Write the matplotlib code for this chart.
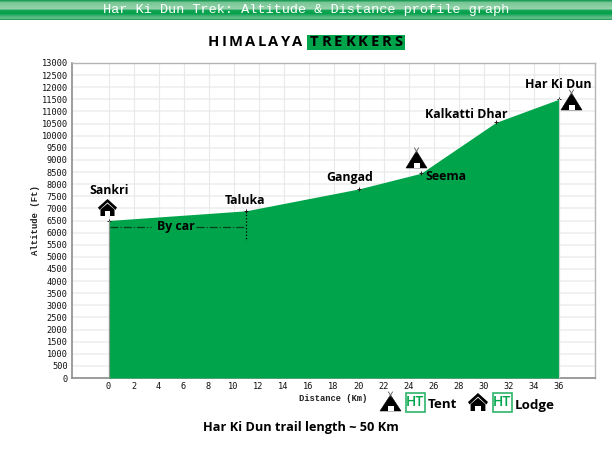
"""Har Ki Dun trek altitude and distance profile"""

import numpy as np
import matplotlib
matplotlib.use('Agg')
import matplotlib.pyplot as plt
from matplotlib.colors import LinearSegmentedColormap
from matplotlib.font_manager import FontProperties
from matplotlib.patches import Polygon, Rectangle
from matplotlib.textpath import TextToPath

distance = [0, 11, 20, 25, 31, 36]
altitude = [6500, 6900, 7800, 8450, 10550, 11500]
place_names = ['Sankri', 'Taluka', 'Gangad', 'Seema', 'Kalkatti Dhar', 'Har Ki Dun']
x_ticks = list(range(0, 38, 2))
y_ticks = list(range(0, 13500, 500))

GREEN = '#00A44A'
BOLD = dict(family='Open Sans', weight='bold', color='black')


def draw_tent(ov, x0, x1, y0, y1):
    """Tent with crossed poles, y0 is the tip of the poles"""
    cx = (x0 + x1) / 2
    tip = y0 + 3
    ov.add_patch(Polygon([(cx, tip), (x1, y1), (x0, y1)], fc='black', ec='black', lw=0.4))
    ov.add_patch(Rectangle((cx - 3, y1 - 5.5), 6, 5.5, fc='white', ec='none'))
    ov.plot([cx - 2, cx + 1], [y0, tip + 2], color='#555555', lw=0.6)
    ov.plot([cx + 2, cx - 1], [y0, tip + 2], color='#555555', lw=0.6)


def draw_lodge(ov, x0, x1, y0, y1):
    """House with a chevron roof"""
    w = x1 - x0
    h = y1 - y0
    cx = (x0 + x1) / 2
    roof = [(cx, y0), (x1, y0 + 0.5 * h), (x1 - 0.08 * w, y0 + 0.64 * h), (cx, y0 + 0.2 * h),
            (x0 + 0.08 * w, y0 + 0.64 * h), (x0, y0 + 0.5 * h)]
    ov.add_patch(Polygon(roof, fc='black', ec='none'))
    body = [(cx, y0 + 0.27 * h), (x1 - 0.13 * w, y0 + 0.62 * h), (x1 - 0.13 * w, y1),
            (x0 + 0.13 * w, y1), (x0 + 0.13 * w, y0 + 0.62 * h)]
    ov.add_patch(Polygon(body, fc='black', ec='none'))
    ov.add_patch(Rectangle((cx - 0.13 * w, y1 - 0.3 * h), 0.26 * w, 0.3 * h, fc='white', ec='none'))


def draw_ht_box(ov, x0, y0, size):
    ov.add_patch(Rectangle((x0, y0), size, size, fc='white', ec='#2db56a', lw=1.2))
    ov.text(x0 + size / 2, y0 + size / 2, 'HT', color=GREEN, fontsize=10, ha='center', va='center',
            family='Open Sans', weight='semibold')


def spaced_text(ov, x, y, text, size_pt, gap, **kw):
    """Letter spaced text, one letter at a time"""
    prop = FontProperties(family='Open Sans', weight='bold', size=size_pt)
    ttp = TextToPath()
    for ch in text:
        w = ttp.get_text_width_height_descent(ch, prop, False)[0] * 100 / 72
        ov.text(x, y, ch, fontproperties=prop, ha='left', va='center', **kw)
        x += w + gap


fig = plt.figure(figsize=(6.12, 4.5), dpi=100)
W, H = 612, 450

# plot area in pixels: left 72, right 595, top 63, bottom 378
ax = fig.add_axes([72 / W, 1 - 378 / H, (595 - 72) / W, (378 - 63) / H])
ax.fill_between(distance, altitude, 0, color=GREEN, lw=0, zorder=3)
ax.plot(distance, altitude, linestyle='none', marker='+', color='#222222', ms=3.5, mew=0.7, zorder=4)
ax.set_xlim(-2.92, 38.92)
ax.set_ylim(0, 13000)
ax.set_xticks(x_ticks)
ax.set_yticks(y_ticks)
ax.tick_params(length=0, pad=3)
for lab in ax.get_xticklabels() + ax.get_yticklabels():
    lab.set_family('DejaVu Sans Mono')
    lab.set_fontsize(6.2)
    lab.set_color('#111111')

for y in y_ticks:
    ax.plot([-2.92, 38.92], [y, y], color='#eeeeee', lw=1.1, zorder=1)
for x in x_ticks:
    ax.plot([x, x], [0, 13000], color='#e9e9e9', lw=0.8, zorder=1)

# grey edges of the filled area
ax.plot([distance[0], distance[0]], [0, altitude[0]], color='#7f9a89', lw=0.9, zorder=4)
ax.plot([distance[-1], distance[-1]], [0, altitude[-1]], color='#c8d4cc', lw=0.8, zorder=4)

for side in ['left', 'bottom']:
    ax.spines[side].set_color('#8c8c8c')
    ax.spines[side].set_linewidth(1.2)
for side in ['top', 'right']:
    ax.spines[side].set_color('#b4b4b4')
    ax.spines[side].set_linewidth(1.0)

ax.set_xlabel('Distance (Km)', family='Liberation Mono', weight='bold', fontsize=6.3, labelpad=2, color='#222222')
ax.set_ylabel('Altitude (Ft)', family='Liberation Mono', weight='bold', fontsize=6.4, labelpad=1.4, color='#222222')

# By car span, Sankri to Taluka
ax.plot([0.15, 3.4], [6240, 6240], color='#0b3d20', lw=0.9, ls='-.', zorder=5)
ax.plot([7.0, 11], [6240, 6240], color='#0b3d20', lw=0.9, ls='-.', zorder=5)
ax.plot([11, 11], [altitude[1], 5650], color='black', lw=0.9, ls=':', zorder=5)
ax.text(5.4, 6240, 'By car', fontsize=8.9, ha='center', va='center', zorder=6, **BOLD)

# overlay in image pixels for header, logo, labels and icons
ov = fig.add_axes([0, 0, 1, 1], zorder=10)
ov.set_xlim(0, W)
ov.set_ylim(H, 0)
ov.axis('off')
ov.patch.set_alpha(0)

header = LinearSegmentedColormap.from_list('hdr', [
    (0.0, '#1f9d58'), (0.06, '#1f9d58'), (0.09, '#74c492'), (0.46, '#96d4ac'),
    (0.52, '#18a657'), (0.68, '#00a04a'), (0.88, '#5cba83'), (0.94, '#66bf8a'), (1.0, '#2a9f60')])
ov.imshow(np.linspace(0, 1, 40).reshape(-1, 1), cmap=header, extent=[0, W, 20, 0], aspect='auto',
          zorder=1, interpolation='nearest')
ov.set_xlim(0, W)
ov.set_ylim(H, 0)
ov.text(306, 10, 'Har Ki Dun Trek: Altitude & Distance profile graph', color='white',
        family='Liberation Mono', fontsize=9.7, ha='center', va='center', zorder=2)

ov.add_patch(Rectangle((307, 35), 98, 14.5, fc=GREEN, ec='none'))
spaced_text(ov, 207.5, 42.5, 'HIMALAYA', 10.6, 2.4, color='black')
spaced_text(ov, 310, 42.5, 'TREKKERS', 10.6, 2.9, color='black')

# place labels, pixel anchors next to their points
label_pos = [(109, 190), (245, 200), (349.5, 178), (446, 176), (466, 114), (558, 84)]
for name, (px, py) in zip(place_names, label_pos):
    ov.text(px, py, name, fontsize=8.9, ha='center', va='center', **BOLD)

draw_lodge(ov, 98, 117, 199, 216)
draw_tent(ov, 406, 427, 148, 168)
draw_tent(ov, 561, 582, 90, 110)

# legend
draw_tent(ov, 380, 401, 392, 411)
draw_ht_box(ov, 405.5, 392.5, 19)
ov.text(428, 405, 'Tent', fontsize=9.6, ha='left', va='center', **BOLD)
draw_lodge(ov, 468, 488, 393, 411)
draw_ht_box(ov, 492.5, 392.5, 19)
ov.text(515, 405, 'Lodge', fontsize=9.6, ha='left', va='center', **BOLD)

ov.text(300.5, 428, 'Har Ki Dun trail length ~ 50 Km', fontsize=9.2, ha='center', va='center', **BOLD)

fig.savefig('out.png', dpi=100)
